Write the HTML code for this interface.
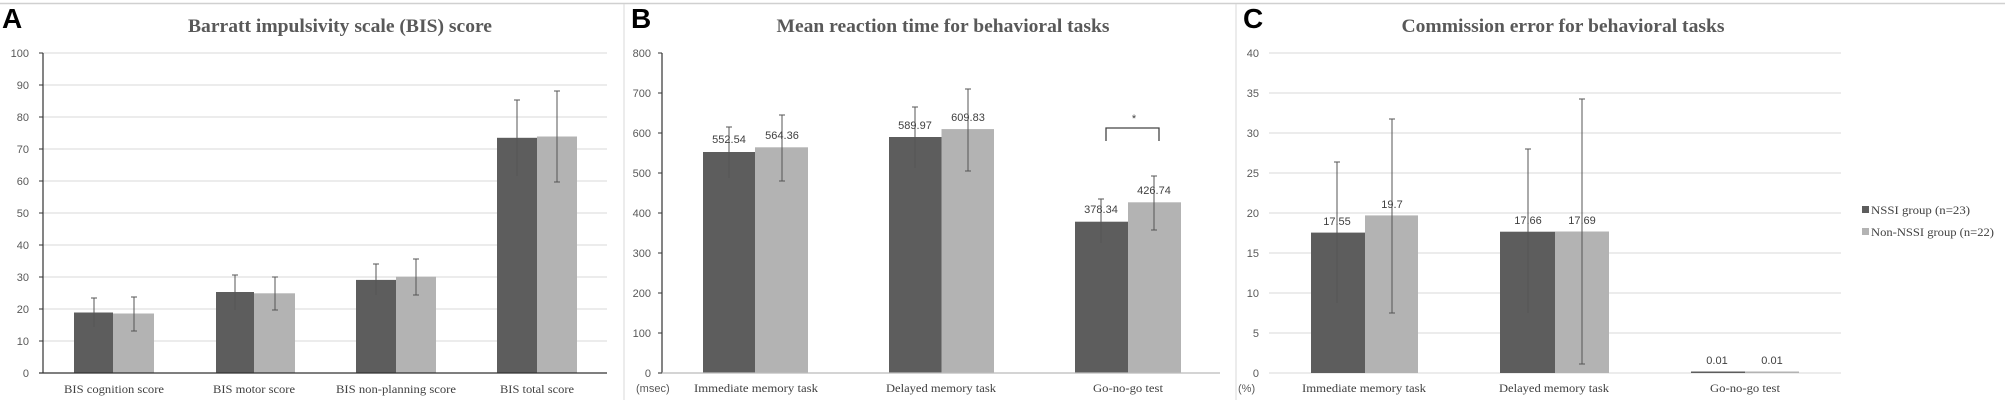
<!DOCTYPE html>
<html><head><meta charset="utf-8"><style>
html,body{margin:0;padding:0;background:#fff;}
svg{display:block;}
.t{font-family:"Liberation Sans",sans-serif;font-size:11px;fill:#595959;}
.c{font-family:"Liberation Serif",serif;font-size:12px;fill:#404040;}
.h{font-family:"Liberation Serif",serif;font-size:19px;font-weight:bold;fill:#595959;}
.L{font-family:"Liberation Sans",sans-serif;font-size:28px;font-weight:bold;fill:#000;}
.v{font-family:"Liberation Sans",sans-serif;font-size:11px;fill:#404040;}
</style></head><body>
<svg width="2005" height="403" viewBox="0 0 2005 403" xmlns="http://www.w3.org/2000/svg">
<rect width="2005" height="403" fill="#fff"/>
<line x1="0" y1="3.5" x2="2005" y2="3.5" stroke="#d0d0d0" stroke-width="1.5"/>
<line x1="624" y1="4" x2="624" y2="400" stroke="#d9d9d9"/>
<line x1="1236" y1="4" x2="1236" y2="400" stroke="#d9d9d9"/>

<!-- Panel A -->
<text class="L" x="2" y="28">A</text>
<text class="h" x="340" y="32" text-anchor="middle" textLength="304" lengthAdjust="spacingAndGlyphs">Barratt impulsivity scale (BIS) score</text>
<g stroke="#d9d9d9" stroke-width="1">
<line x1="43" y1="53" x2="607" y2="53"/><line x1="43" y1="85" x2="607" y2="85"/><line x1="43" y1="117" x2="607" y2="117"/><line x1="43" y1="149" x2="607" y2="149"/><line x1="43" y1="181" x2="607" y2="181"/><line x1="43" y1="213" x2="607" y2="213"/><line x1="43" y1="245" x2="607" y2="245"/><line x1="43" y1="277" x2="607" y2="277"/><line x1="43" y1="309" x2="607" y2="309"/><line x1="43" y1="341" x2="607" y2="341"/>
</g>
<g class="t" text-anchor="end">
<text x="29" y="57">100</text><text x="29" y="89">90</text><text x="29" y="121">80</text><text x="29" y="153">70</text><text x="29" y="185">60</text><text x="29" y="217">50</text><text x="29" y="249">40</text><text x="29" y="281">30</text><text x="29" y="313">20</text><text x="29" y="345">10</text><text x="29" y="377">0</text>
</g>
<g fill="#5d5d5d">
<rect x="74" y="312.5" width="39" height="60.5"/><rect x="216" y="292" width="38" height="81"/><rect x="356" y="279.9" width="40" height="93.1"/><rect x="497" y="137.8" width="40" height="235.2"/>
</g>
<g fill="#b3b3b3">
<rect x="113" y="313.5" width="41" height="59.5"/><rect x="254" y="293.3" width="41" height="79.7"/><rect x="396" y="276.7" width="40" height="96.3"/><rect x="537" y="136.5" width="40" height="236.5"/>
</g>
<g stroke="#555" stroke-width="1">
<line x1="94" y1="298" x2="94" y2="327"/><line x1="91" y1="298" x2="97" y2="298"/>
<line x1="134" y1="297" x2="134" y2="331"/><line x1="131" y1="297" x2="137" y2="297"/><line x1="131" y1="331" x2="137" y2="331"/>
<line x1="235" y1="275" x2="235" y2="310"/><line x1="232" y1="275" x2="238" y2="275"/>
<line x1="275" y1="277" x2="275" y2="310"/><line x1="272" y1="277" x2="278" y2="277"/><line x1="272" y1="310" x2="278" y2="310"/>
<line x1="376" y1="264" x2="376" y2="295"/><line x1="373" y1="264" x2="379" y2="264"/>
<line x1="416" y1="259" x2="416" y2="295"/><line x1="413" y1="259" x2="419" y2="259"/><line x1="413" y1="295" x2="419" y2="295"/>
<line x1="517" y1="100" x2="517" y2="176"/><line x1="514" y1="100" x2="520" y2="100"/>
<line x1="557" y1="91" x2="557" y2="182"/><line x1="554" y1="91" x2="560" y2="91"/><line x1="554" y1="182" x2="560" y2="182"/>
</g>
<line x1="43" y1="53" x2="43" y2="373" stroke="#333" stroke-width="1.2"/>
<line x1="39" y1="373" x2="607" y2="373" stroke="#333" stroke-width="1.2"/>
<g stroke="#333"><line x1="39" y1="53" x2="43" y2="53"/><line x1="39" y1="85" x2="43" y2="85"/><line x1="39" y1="117" x2="43" y2="117"/><line x1="39" y1="149" x2="43" y2="149"/><line x1="39" y1="181" x2="43" y2="181"/><line x1="39" y1="213" x2="43" y2="213"/><line x1="39" y1="245" x2="43" y2="245"/><line x1="39" y1="277" x2="43" y2="277"/><line x1="39" y1="309" x2="43" y2="309"/><line x1="39" y1="341" x2="43" y2="341"/></g>
<g class="c" text-anchor="middle">
<text x="114" y="393" textLength="100" lengthAdjust="spacingAndGlyphs">BIS cognition score</text>
<text x="254" y="393" textLength="82" lengthAdjust="spacingAndGlyphs">BIS motor score</text>
<text x="396" y="393" textLength="120" lengthAdjust="spacingAndGlyphs">BIS non-planning score</text>
<text x="537" y="393" textLength="74" lengthAdjust="spacingAndGlyphs">BIS total score</text>
</g>

<!-- Panel B -->
<text class="L" x="631" y="28">B</text>
<text class="h" x="943" y="32" text-anchor="middle" textLength="333" lengthAdjust="spacingAndGlyphs">Mean reaction time for behavioral tasks</text>
<g class="t" text-anchor="end">
<text x="651" y="57">800</text><text x="651" y="97">700</text><text x="651" y="137">600</text><text x="651" y="177">500</text><text x="651" y="217">400</text><text x="651" y="257">300</text><text x="651" y="297">200</text><text x="651" y="337">100</text><text x="651" y="377">0</text>
</g>
<text class="t" x="636" y="392">(msec)</text>
<g fill="#5d5d5d">
<rect x="703" y="152" width="52" height="221"/><rect x="889" y="137" width="52.5" height="236"/><rect x="1075" y="221.7" width="53" height="151.3"/>
</g>
<g fill="#b3b3b3">
<rect x="755" y="147.3" width="53" height="225.7"/><rect x="941.5" y="129.1" width="52.5" height="243.9"/><rect x="1128" y="202.3" width="53" height="170.7"/>
</g>
<g stroke="#555" stroke-width="1">
<line x1="729" y1="127" x2="729" y2="178"/><line x1="726" y1="127" x2="732" y2="127"/>
<line x1="782" y1="115" x2="782" y2="181"/><line x1="779" y1="115" x2="785" y2="115"/><line x1="779" y1="181" x2="785" y2="181"/>
<line x1="915" y1="107" x2="915" y2="168"/><line x1="912" y1="107" x2="918" y2="107"/>
<line x1="968" y1="89" x2="968" y2="171"/><line x1="965" y1="89" x2="971" y2="89"/><line x1="965" y1="171" x2="971" y2="171"/>
<line x1="1101" y1="199" x2="1101" y2="243"/><line x1="1098" y1="199" x2="1104" y2="199"/>
<line x1="1154" y1="176" x2="1154" y2="230"/><line x1="1151" y1="176" x2="1157" y2="176"/><line x1="1151" y1="230" x2="1157" y2="230"/>
</g>
<g class="v" text-anchor="middle">
<text x="729" y="143">552.54</text><text x="782" y="139">564.36</text><text x="915" y="129">589.97</text><text x="968" y="121">609.83</text><text x="1101" y="213">378.34</text><text x="1154" y="194">426.74</text>
</g>
<path d="M1106 141 V128 H1159 V141" fill="none" stroke="#444" stroke-width="1.3"/>
<text class="v" x="1134" y="122" text-anchor="middle" font-size="13">*</text>
<line x1="662" y1="53" x2="662" y2="373" stroke="#333" stroke-width="1.2"/>
<line x1="658" y1="373" x2="1220" y2="373" stroke="#bbb" stroke-width="1.2"/>
<g stroke="#333"><line x1="658" y1="53" x2="662" y2="53"/><line x1="658" y1="93" x2="662" y2="93"/><line x1="658" y1="133" x2="662" y2="133"/><line x1="658" y1="173" x2="662" y2="173"/><line x1="658" y1="213" x2="662" y2="213"/><line x1="658" y1="253" x2="662" y2="253"/><line x1="658" y1="293" x2="662" y2="293"/><line x1="658" y1="333" x2="662" y2="333"/><line x1="658" y1="373" x2="662" y2="373"/></g>
<g class="c" text-anchor="middle">
<text x="756" y="392" textLength="124" lengthAdjust="spacingAndGlyphs">Immediate memory task</text>
<text x="941" y="392" textLength="110" lengthAdjust="spacingAndGlyphs">Delayed memory task</text>
<text x="1128" y="392" textLength="70" lengthAdjust="spacingAndGlyphs">Go-no-go test</text>
</g>

<!-- Panel C -->
<text class="L" x="1243" y="28">C</text>
<text class="h" x="1563" y="32" text-anchor="middle" textLength="323" lengthAdjust="spacingAndGlyphs">Commission error for behavioral tasks</text>
<g stroke="#d9d9d9" stroke-width="1">
<line x1="1269" y1="53" x2="1841" y2="53"/><line x1="1269" y1="93" x2="1841" y2="93"/><line x1="1269" y1="133" x2="1841" y2="133"/><line x1="1269" y1="173" x2="1841" y2="173"/><line x1="1269" y1="213" x2="1841" y2="213"/><line x1="1269" y1="253" x2="1841" y2="253"/><line x1="1269" y1="293" x2="1841" y2="293"/><line x1="1269" y1="333" x2="1841" y2="333"/><line x1="1269" y1="373" x2="1841" y2="373"/>
</g>
<g class="t" text-anchor="end">
<text x="1259" y="57">40</text><text x="1259" y="97">35</text><text x="1259" y="137">30</text><text x="1259" y="177">25</text><text x="1259" y="217">20</text><text x="1259" y="257">15</text><text x="1259" y="297">10</text><text x="1259" y="337">5</text><text x="1259" y="377">0</text>
</g>
<text class="t" x="1238" y="392" font-size="13">(%)</text>
<g fill="#5d5d5d">
<rect x="1311" y="232.6" width="54" height="140.4"/><rect x="1500" y="231.7" width="55" height="141.3"/><rect x="1691" y="371.5" width="54" height="1.5"/>
</g>
<g fill="#b3b3b3">
<rect x="1365" y="215.4" width="53" height="157.6"/><rect x="1555" y="231.5" width="54" height="141.5"/><rect x="1745" y="371.5" width="54" height="1.5"/>
</g>
<g stroke="#555" stroke-width="1">
<line x1="1337" y1="162" x2="1337" y2="303"/><line x1="1334" y1="162" x2="1340" y2="162"/>
<line x1="1392" y1="119" x2="1392" y2="313"/><line x1="1389" y1="119" x2="1395" y2="119"/><line x1="1389" y1="313" x2="1395" y2="313"/>
<line x1="1528" y1="149" x2="1528" y2="313"/><line x1="1525" y1="149" x2="1531" y2="149"/>
<line x1="1582" y1="99" x2="1582" y2="364"/><line x1="1579" y1="99" x2="1585" y2="99"/><line x1="1579" y1="364" x2="1585" y2="364"/>
</g>
<g class="v" text-anchor="middle">
<text x="1337" y="225">17.55</text><text x="1392" y="208">19.7</text><text x="1528" y="224">17.66</text><text x="1582" y="224">17.69</text><text x="1717" y="364">0.01</text><text x="1772" y="364">0.01</text>
</g>
<g class="c" text-anchor="middle">
<text x="1364" y="392" textLength="124" lengthAdjust="spacingAndGlyphs">Immediate memory task</text>
<text x="1554" y="392" textLength="110" lengthAdjust="spacingAndGlyphs">Delayed memory task</text>
<text x="1745" y="392" textLength="70" lengthAdjust="spacingAndGlyphs">Go-no-go test</text>
</g>
<rect x="1862" y="206" width="7" height="7" fill="#5d5d5d"/>
<text class="c" x="1871" y="214" textLength="99" lengthAdjust="spacingAndGlyphs">NSSI group (n=23)</text>
<rect x="1862" y="228" width="7" height="7" fill="#b3b3b3"/>
<text class="c" x="1871" y="236" textLength="123" lengthAdjust="spacingAndGlyphs">Non-NSSI group (n=22)</text>
</svg>
</body></html>
